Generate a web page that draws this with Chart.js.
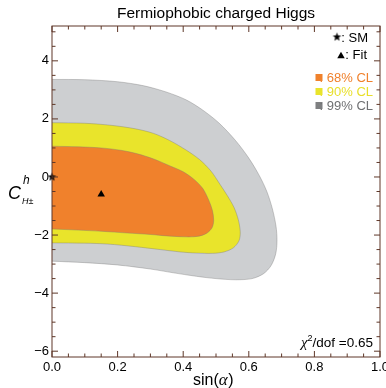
<!DOCTYPE html>
<html>
<head>
<meta charset="utf-8">
<script src="https://cdn.jsdelivr.net/npm/chart.js@4.4.1/dist/chart.umd.min.js"></script>
<style>
  html, body { margin: 0; padding: 0; background: #fff; }
  #wrap { width: 386px; height: 388px; }
</style>
</head>
<body>
<div id="wrap"><canvas id="chart" width="386" height="388"></canvas></div>
<script>
// contour outlines, clockwise from the top-left corner
const cl99X = [0, 0.1, 0.2, 0.28, 0.35, 0.41, 0.46, 0.51, 0.56, 0.60, 0.632, 0.655, 0.672, 0.683, 0.686, 0.682, 0.668, 0.645, 0.61, 0.56, 0.5, 0.44, 0.37, 0.3, 0.2, 0.1, 0];
const cl99Y = [3.36, 3.35, 3.28, 3.14, 2.92, 2.65, 2.3, 1.85, 1.25, 0.65, 0.05, -0.5, -1.1, -1.7, -2.2, -2.65, -3.05, -3.33, -3.5, -3.54, -3.5, -3.42, -3.3, -3.17, -3.03, -2.95, -2.9];

const cl90X = [0, 0.1, 0.18, 0.254, 0.31, 0.36, 0.41, 0.45, 0.485, 0.512, 0.535, 0.555, 0.568, 0.574, 0.57, 0.553, 0.525, 0.49, 0.44, 0.39, 0.33, 0.254, 0.17, 0.1, 0];
const cl90Y = [1.87, 1.85, 1.78, 1.66, 1.5, 1.25, 0.92, 0.6, 0.2, -0.25, -0.65, -1.05, -1.47, -1.9, -2.2, -2.44, -2.58, -2.63, -2.62, -2.58, -2.5, -2.4, -2.31, -2.28, -2.27];

const cl68X = [0, 0.08, 0.15, 0.21, 0.26, 0.31, 0.36, 0.4, 0.435, 0.46, 0.478, 0.489, 0.493, 0.488, 0.474, 0.455, 0.43, 0.4, 0.35, 0.3, 0.23, 0.15, 0.08, 0];
const cl68Y = [1.06, 1.04, 1.0, 0.92, 0.8, 0.62, 0.38, 0.18, -0.1, -0.4, -0.8, -1.15, -1.5, -1.75, -1.92, -2.02, -2.06, -2.06, -2.03, -1.98, -1.93, -1.87, -1.83, -1.79];

const smPoint = { x: 0, y: 0 };
const fitPoint = { x: 0.15, y: -0.6 };

const xTicks = [0, 0.2, 0.4, 0.6, 0.8, 1.0];
const yTicks = [-6, -4, -2, 0, 2, 4];
const chiValue = '0.65';
const titleText = 'Fermiophobic charged Higgs';

const font = '"Liberation Sans", Arial, sans-serif';
const serif = '"Liberation Serif", "Times New Roman", serif';
const frameColor = '#5e3728';
const orange = '#f0812c';
const yellow = '#e9e42b';
const gray = '#cdcfd1';

// small filled star used as point style
function makeStar(r) {
    const c = document.createElement('canvas');
    const s = Math.ceil(r * 2) + 2;
    c.width = s; c.height = s;
    const g = c.getContext('2d');
    g.beginPath();
    for (let i = 0; i < 10; i++) {
        const rr = i % 2 === 0 ? r : r * 0.42;
        const a = -Math.PI / 2 + i * Math.PI / 5;
        g.lineTo(s / 2 + rr * Math.cos(a), s / 2 + rr * Math.sin(a));
    }
    g.closePath();
    g.fillStyle = '#000';
    g.fill();
    return c;
}
const star = makeStar(4.5);

const pts = (xs, ys) => xs.map((x, i) => ({ x, y: ys[i] }));

const region = (label, xs, ys, color, order) => ({
    label,
    data: pts(xs, ys),
    backgroundColor: color,
    borderColor: 'rgba(120,120,120,0.55)',
    borderWidth: 0.7,
    fill: 'shape',
    pointRadius: 0,
    tension: 0.3,
    order
});

function drawTri(ctx, x, y, r) {
    ctx.beginPath();
    ctx.moveTo(x, y - r);
    ctx.lineTo(x + r * 0.87, y + r * 0.5);
    ctx.lineTo(x - r * 0.87, y + r * 0.5);
    ctx.closePath();
    ctx.fill();
}

const decor = {
    id: 'decor',
    afterDraw(chart) {
        const { ctx, chartArea: a, scales: { x, y } } = chart;
        ctx.save();

        // frame + inward ticks on all four sides
        ctx.strokeStyle = frameColor;
        ctx.lineWidth = 1;
        ctx.strokeRect(a.left, a.top, a.right - a.left, a.bottom - a.top);
        ctx.beginPath();
        for (let i = 0; i <= 20; i++) {
            const v = i * 0.05;
            const len = i % 4 === 0 ? 6 : 3.5;
            const px = x.getPixelForValue(v);
            ctx.moveTo(px, a.bottom); ctx.lineTo(px, a.bottom - len);
            ctx.moveTo(px, a.top); ctx.lineTo(px, a.top + len);
        }
        for (let v = -6; v <= 5; v += 0.5) {
            const len = v % 2 === 0 ? 6 : 3.5;
            const py = y.getPixelForValue(v);
            ctx.moveTo(a.left, py); ctx.lineTo(a.left + len, py);
            ctx.moveTo(a.right, py); ctx.lineTo(a.right - len, py);
        }
        ctx.stroke();

        ctx.fillStyle = '#000';

        // title, centred over the plot frame
        ctx.textAlign = 'center';
        ctx.textBaseline = 'middle';
        ctx.font = '15.5px ' + font;
        ctx.fillText(titleText, (a.left + a.right) / 2, 13.5);

        ctx.textBaseline = 'alphabetic';

        // y axis title  C^h_{H±}
        ctx.textAlign = 'left';
        ctx.font = 'italic 18px ' + font;
        ctx.fillText('C', 8, 199);
        ctx.font = 'italic 12px ' + font;
        ctx.fillText('h', 23, 184);
        ctx.font = 'italic 9px ' + font;
        ctx.fillText('H\u00b1', 22, 204);

        // x axis title  sin(α)
        ctx.font = '16px ' + font;
        const w1 = ctx.measureText('sin(').width;
        const w3 = ctx.measureText(')').width;
        ctx.font = 'italic 17px ' + serif;
        const w2 = ctx.measureText('\u03b1').width;
        let sx = (a.left + a.right) / 2 - 3 - (w1 + w2 + w3) / 2;
        ctx.font = '16px ' + font;
        ctx.fillText('sin(', sx, 385);
        ctx.font = 'italic 17px ' + serif;
        ctx.fillText('\u03b1', sx + w1, 385);
        ctx.font = '16px ' + font;
        ctx.fillText(')', sx + w1 + w2 + 0.5, 385);

        // legend
        ctx.textAlign = 'right';
        ctx.font = '13px ' + font;
        ctx.drawImage(star, 337 - star.width / 2, 37 - star.height / 2);
        ctx.fillText(': SM', 368, 42);
        drawTri(ctx, 341, 56, 4.3);
        ctx.fillText(': Fit', 367, 59);
        const rows = [[orange, '68% CL', 82], [yellow, '90% CL', 96], ['#7e7f81', '99% CL', 110]];
        const txtCol = [orange, '#e8df2a', '#6f7072'];
        rows.forEach(([c, t, b], i) => {
            ctx.fillStyle = c;
            ctx.fillRect(315.5, b - 8, 7, 7);
            ctx.fillStyle = txtCol[i];
            ctx.fillText(': ' + t, 373, b);
        });

        // chi^2 / dof
        ctx.fillStyle = '#000';
        ctx.font = '13.5px ' + font;
        const tail = '/dof =' + chiValue;
        const wt = ctx.measureText(tail).width;
        ctx.fillText(tail, 373, 347);
        ctx.font = '9px ' + font;
        const w2s = ctx.measureText('2').width;
        ctx.fillText('2', 373 - wt, 341);
        ctx.font = 'italic 15px ' + serif;
        ctx.fillText('\u03c7', 373 - wt - w2s, 347);

        ctx.restore();
    }
};

new Chart(document.getElementById('chart'), {
    type: 'line',
    data: {
        datasets: [
            {
                label: 'points',
                data: [smPoint, fitPoint],
                showLine: false,
                pointStyle: [star, 'triangle'],
                pointRadius: 4.3,
                backgroundColor: '#000',
                borderColor: '#000',
                borderWidth: 0,
                clip: false,
                order: 0
            },
            region('68% CL', cl68X, cl68Y, orange, 1),
            region('90% CL', cl90X, cl90Y, yellow, 2),
            region('99% CL', cl99X, cl99Y, gray, 3)
        ]
    },
    options: {
        responsive: false,
        animation: false,
        events: [],
        layout: { padding: { left: 0, right: 6, top: 26, bottom: 0 } },
        plugins: {
            legend: { display: false },
            tooltip: { enabled: false },
            title: { display: false }
        },
        scales: {
            x: {
                type: 'linear',
                min: 0,
                max: 1,
                afterBuildTicks: s => { s.ticks = xTicks.map(v => ({ value: v })); },
                afterFit: s => { s.height = 31; s.paddingLeft = 0; s.paddingRight = 0; },
                grid: { display: false, drawTicks: false },
                border: { display: false },
                ticks: {
                    padding: 3,
                    color: '#000',
                    maxRotation: 0,
                    font: { family: font, size: 13 },
                    callback: v => Number(v).toFixed(1)
                }
            },
            y: {
                type: 'linear',
                min: -6.2,
                max: 5.2,
                afterBuildTicks: s => { s.ticks = yTicks.map(v => ({ value: v })); },
                afterFit: s => { s.width = 52; s.paddingTop = 0; s.paddingBottom = 0; },
                grid: { display: false, drawTicks: false },
                border: { display: false },
                ticks: {
                    padding: 3,
                    color: '#000',
                    font: { family: font, size: 13 },
                    callback: v => v < 0 ? '\u2212' + Math.abs(v) : String(v)
                }
            }
        }
    },
    plugins: [decor]
});
</script>
</body>
</html>
